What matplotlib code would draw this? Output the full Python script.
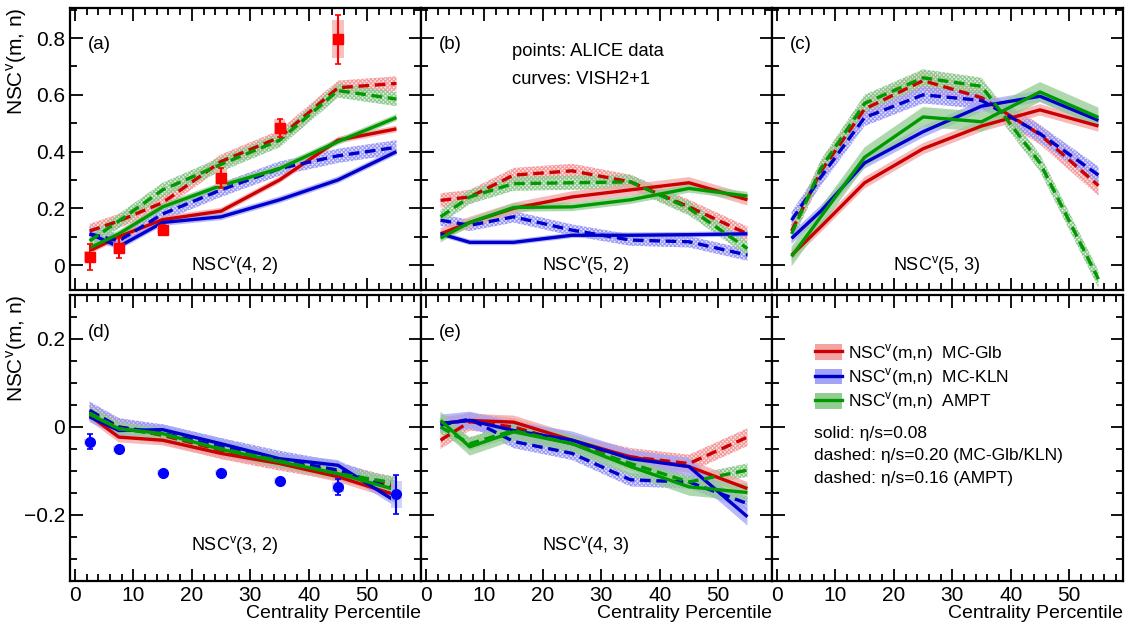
import matplotlib
matplotlib.use("Agg")
import matplotlib.pyplot as plt
from matplotlib import font_manager
from matplotlib.patches import Patch, Rectangle
from matplotlib.lines import Line2D
from matplotlib.ticker import MultipleLocator, FuncFormatter
import numpy as np

names = {f.name for f in font_manager.fontManager.ttflist}
FONT = "Liberation Sans Narrow" if "Liberation Sans Narrow" in names else "Liberation Sans"
plt.rcParams["font.family"] = [FONT, "DejaVu Sans"]
plt.rcParams["mathtext.fontset"] = "custom"
plt.rcParams["mathtext.rm"] = FONT
plt.rcParams["hatch.linewidth"] = 0.8

# ---------------- data ----------------
cent = [2.5, 7.5, 15, 25, 35, 45, 55]
models = ["MC-Glb", "MC-KLN", "AMPT"]
panel_names = ["(a)", "(b)", "(c)", "(d)", "(e)"]
panel_titles = ["NSC$^{\\rm v}$(4, 2)", "NSC$^{\\rm v}$(5, 2)", "NSC$^{\\rm v}$(5, 3)",
                "NSC$^{\\rm v}$(3, 2)", "NSC$^{\\rm v}$(4, 3)"]

# solid curves: eta/s = 0.08   [MC-Glb, MC-KLN, AMPT]
a_solid = [[0.05, 0.10, 0.16, 0.19, 0.30, 0.44, 0.48],
           [0.11, 0.065, 0.15, 0.17, 0.23, 0.30, 0.40],
           [0.06, 0.11, 0.205, 0.28, 0.34, 0.435, 0.52]]
a_dash = [[0.12, 0.155, 0.22, 0.365, 0.45, 0.625, 0.64],
          [0.11, 0.085, 0.18, 0.265, 0.34, 0.385, 0.415],
          [0.085, 0.155, 0.265, 0.355, 0.44, 0.615, 0.585]]
b_solid = [[0.11, 0.15, 0.20, 0.24, 0.265, 0.29, 0.23],
           [0.11, 0.08, 0.08, 0.105, 0.105, 0.107, 0.11],
           [0.095, 0.15, 0.203, 0.205, 0.23, 0.27, 0.243]]
b_dash = [[0.228, 0.24, 0.317, 0.332, 0.293, 0.205, 0.11],
          [0.158, 0.14, 0.17, 0.123, 0.088, 0.082, 0.035],
          [0.17, 0.24, 0.287, 0.29, 0.293, 0.20, 0.058]]
c_solid = [[0.035, 0.135, 0.29, 0.41, 0.49, 0.547, 0.49],
           [0.094, 0.19, 0.36, 0.47, 0.56, 0.595, 0.51],
           [0.03, 0.17, 0.38, 0.522, 0.505, 0.61, 0.52]]
c_dash = [[0.12, 0.33, 0.55, 0.65, 0.59, 0.46, 0.28],
          [0.158, 0.31, 0.52, 0.60, 0.58, 0.463, 0.317],
          [0.11, 0.34, 0.57, 0.66, 0.63, 0.36, -0.05]]
d_solid = [[0.026, -0.023, -0.030, -0.060, -0.083, -0.113, -0.155],
           [0.023, -0.008, -0.006, -0.038, -0.072, -0.087, -0.170],
           [0.029, -0.004, -0.015, -0.051, -0.079, -0.106, -0.143]]
d_dash = [[0.034, 0.000, -0.019, -0.053, -0.079, -0.102, -0.136],
          [0.038, 0.000, -0.014, -0.045, -0.074, -0.098, -0.143],
          [0.032, -0.004, -0.017, -0.049, -0.077, -0.106, -0.128]]
e_solid = [[0.008, 0.015, 0.011, -0.030, -0.068, -0.090, -0.140],
           [0.008, 0.015, -0.008, -0.030, -0.072, -0.090, -0.204],
           [0.015, -0.045, -0.011, -0.038, -0.090, -0.136, -0.149]]
e_dash = [[-0.030, 0.012, 0.000, -0.038, -0.068, -0.083, -0.023],
          [0.004, 0.018, -0.033, -0.060, -0.120, -0.125, -0.174],
          [0.000, -0.038, -0.008, -0.038, -0.083, -0.125, -0.098]]

# band half-widths per panel [MC-Glb, MC-KLN, AMPT]
solid_band = [[0.012, 0.012, 0.012], [0.02, 0.01, 0.015], [0.02, 0.02, 0.035],
              [0.012, 0.012, 0.012], [0.015, 0.02, 0.02]]
dash_band = [[0.025, 0.025, 0.025], [0.025, 0.02, 0.025], [0.035, 0.03, 0.03],
             [0.02, 0.02, 0.015], [0.02, 0.015, 0.015]]

# ALICE data
alice_a_x = [2.5, 7.5, 15, 25, 35, 45]
alice_a_y = [0.029, 0.059, 0.125, 0.307, 0.483, 0.796]
alice_a_stat = [0.046, 0.035, 0.015, 0.036, 0.033, 0.087]
alice_a_sys = [0.02, 0.02, 0.012, 0.03, 0.03, 0.068]
alice_d_x = [2.5, 7.5, 15, 25, 35, 45, 55]
alice_d_y = [-0.034, -0.050, -0.104, -0.104, -0.122, -0.136, -0.153]
alice_d_stat = [0.017, 0.004, 0.004, 0.004, 0.005, 0.018, 0.045]
alice_d_sys = [0.006, 0.006, 0.006, 0.006, 0.007, 0.012, 0.03]

solid_curves = [a_solid, b_solid, c_solid, d_solid, e_solid]
dash_curves = [a_dash, b_dash, c_dash, d_dash, e_dash]

dark = ["#cc0000", "#0000cc", "#009900"]
light_solid = ["#f4a3a3", "#a3a3f8", "#94cc94"]
light_dash = ["#f49a9a", "#9a9af6", "#8ec88e"]

# ---------------- figure ----------------
W, H = 1133, 630
fig = plt.figure(figsize=(W / 100, H / 100), dpi=100)

lefts = [70, 421, 772]
wpx = 351
rows = [(8, 290), (295, 581)]


def fa(l, t, w, b):
    return [l / W, 1 - b / H, w / W, (b - t) / H]


axes = []
for r, (t, b) in enumerate(rows):
    for c in range(3):
        ax = fig.add_axes(fa(lefts[c], t, wpx, b))
        axes.append(ax)

fmt = FuncFormatter(lambda v, p: ("%g" % round(v, 3)).replace("-", "\u2212"))
for i, ax in enumerate(axes):
    ax.set_xlim(-0.85, 59.2)
    if i < 3:
        ax.set_ylim(-0.088, 0.906)
        ax.yaxis.set_major_locator(MultipleLocator(0.2))
        ax.yaxis.set_minor_locator(MultipleLocator(0.1))
    else:
        ax.set_ylim(-0.35, 0.30)
        ax.yaxis.set_major_locator(MultipleLocator(0.2))
        ax.yaxis.set_minor_locator(MultipleLocator(0.05))
    ax.xaxis.set_major_locator(MultipleLocator(10))
    ax.xaxis.set_minor_locator(MultipleLocator(2))
    ax.yaxis.set_major_formatter(fmt)
    ax.xaxis.set_major_formatter(fmt)
    ax.tick_params(which="both", direction="in", top=True, right=True, width=1.3, labelsize=15)
    ax.tick_params(which="major", length=9)
    ax.tick_params(which="minor", length=5)
    for s in ax.spines.values():
        s.set_linewidth(1.6)
    if i % 3 != 0:
        ax.tick_params(labelleft=False)
    if i < 3:
        ax.tick_params(labelbottom=False)
    else:
        ax.set_xlabel("Centrality Percentile", loc="right", fontsize=14, labelpad=0)

axes[2].set_xlabel("Centrality Percentile", loc="right", fontsize=14, labelpad=0)
axes[2].tick_params(labelbottom=False)

for r in (0, 3):
    axes[r].set_ylabel("NSC$^{\\rm v}$(m, n)", loc="top", fontsize=15)
    axes[r].yaxis.set_label_coords(-0.117, 1.0)

# curves
for p in range(5):
    ax = axes[p]
    x = np.array(cent)
    for m in range(3):
        ys = np.array(solid_curves[p][m])
        yd = np.array(dash_curves[p][m])
        hs = solid_band[p][m]
        hd = dash_band[p][m]
        ax.fill_between(x, yd - hd, yd + hd, facecolor=light_dash[m], alpha=0.25,
                        linewidth=0, zorder=2)
        ax.fill_between(x, yd - hd, yd + hd, facecolor="none", edgecolor=light_dash[m],
                        hatch="xxxxxxxx", linewidth=0, zorder=2)
        ax.fill_between(x, ys - hs, ys + hs, facecolor=light_solid[m], alpha=0.75,
                        linewidth=0, zorder=3)
    for m in range(3):
        ys = np.array(solid_curves[p][m])
        yd = np.array(dash_curves[p][m])
        ax.plot(x, ys, color=dark[m], lw=2.4, zorder=4, solid_capstyle="butt")
        ax.plot(x, yd, color=dark[m], lw=2.4, zorder=4, dashes=(3.2, 1.7))
    ax.text(0.05, 0.87, panel_names[p], transform=ax.transAxes, fontsize=13.5,
            ha="left", va="center")
    ty = 0.089 if p < 3 else 0.126
    ax.text(0.47, ty, panel_titles[p], transform=ax.transAxes, fontsize=13,
            ha="center", va="center")

# ALICE data (a)
ax = axes[0]
for xx, yy, ss in zip(alice_a_x, alice_a_y, alice_a_sys):
    ax.add_patch(Rectangle((xx - 1.0, yy - ss), 2.0, 2 * ss, facecolor="#f7b0b0",
                           edgecolor="none", alpha=0.8, zorder=5))
ax.errorbar(alice_a_x, alice_a_y, yerr=alice_a_stat, fmt="s", color="#ff0000",
            ms=7, capsize=2.5, elinewidth=1.5, capthick=1.2, zorder=6)

# ALICE data (d)
ax = axes[3]
for xx, yy, ss in zip(alice_d_x, alice_d_y, alice_d_sys):
    ax.add_patch(Rectangle((xx - 1.0, yy - ss), 2.0, 2 * ss, facecolor="#c8c8f5",
                           edgecolor="none", alpha=0.8, zorder=5))
ax.errorbar(alice_d_x, alice_d_y, yerr=alice_d_stat, fmt="o", color="#0000ff",
            ms=7, capsize=2.5, elinewidth=1.5, capthick=1.2, zorder=6)

# text in (b)
axes[1].text(0.26, 0.844, "points: ALICE data", transform=axes[1].transAxes,
             fontsize=13.2, ha="left", va="center")
axes[1].text(0.26, 0.745, "curves: VISH2+1", transform=axes[1].transAxes,
             fontsize=13.2, ha="left", va="center")

# legend in (f)
axf = axes[5]
handles = [(Patch(facecolor=light_solid[m], edgecolor="none"),
            Line2D([], [], color=dark[m], lw=2.4)) for m in range(3)]
labels = ["NSC$^{\\rm v}$(m,n)  " + mm for mm in models]
axf.legend(handles, labels, loc="upper left", bbox_to_anchor=(0.122, 0.835),
           frameon=False, fontsize=12.5, handlelength=1.55, handleheight=1.0,
           handletextpad=0.35, labelspacing=0.15, borderaxespad=0, borderpad=0)
notes = ["solid: \u03b7/s=0.08", "dashed: \u03b7/s=0.20 (MC-Glb/KLN)",
         "dashed: \u03b7/s=0.16 (AMPT)"]
for k, tline in enumerate(notes):
    axf.text(0.12, 0.517 - 0.079 * k, tline, transform=axf.transAxes, fontsize=12.5,
             ha="left", va="center")

fig.savefig("out.png", dpi=100)
